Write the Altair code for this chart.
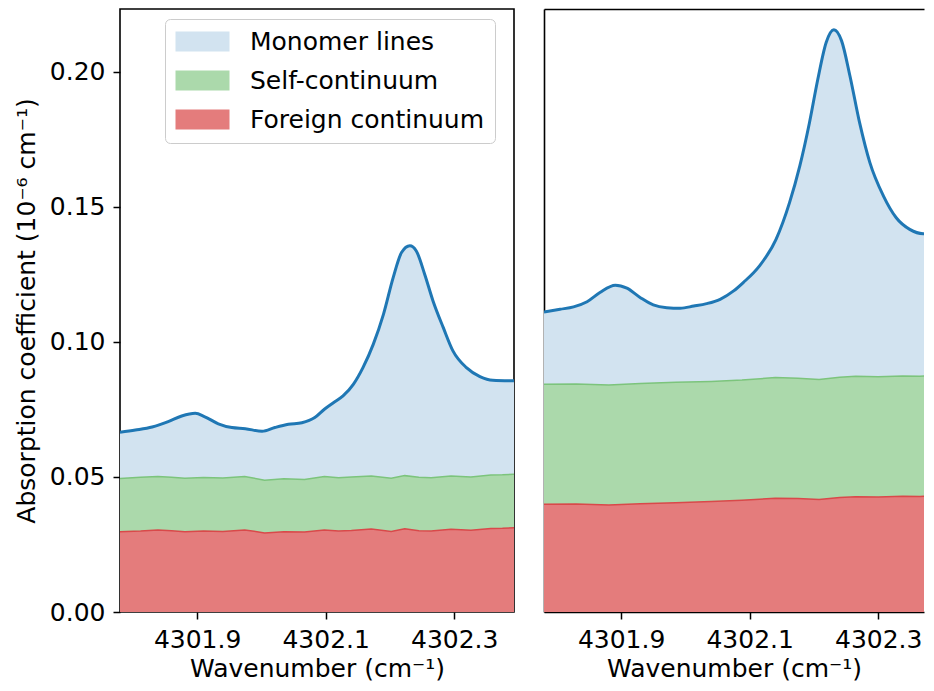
import altair as alt
import pandas as pd

# ---------------- data ----------------
SERIES = ["Monomer lines", "Self-continuum", "Foreign continuum"]
FILLS = ["#d2e3f0", "#abd9ab", "#e47c7c"]

XDOM_L = [4301.78, 4302.393]
XDOM_R = [4301.78, 4302.3712]   # right panel is cut by the picture edge
YDOM = [0, 0.2233]
XTICKS = [4301.9, 4302.1, 4302.3]
YTICKS = [0.0, 0.05, 0.10, 0.15, 0.20]

# left panel: total absorption (top of monomer lines)
L_WN = [4301.780, 4301.804, 4301.830, 4301.855, 4301.876, 4301.897, 4301.912,
        4301.933, 4301.954, 4301.975, 4302.001, 4302.021, 4302.042, 4302.063,
        4302.083, 4302.098, 4302.112, 4302.127, 4302.143, 4302.158, 4302.174,
        4302.190, 4302.205, 4302.218, 4302.231, 4302.241, 4302.254, 4302.267,
        4302.283, 4302.298, 4302.319, 4302.340, 4302.360, 4302.393]
L_TOT = [0.0666, 0.0674, 0.0685, 0.0705, 0.0726, 0.0736, 0.0723,
         0.0697, 0.0683, 0.0679, 0.0669, 0.0683, 0.0695, 0.0701,
         0.0720, 0.0751, 0.0775, 0.0800, 0.0843, 0.0905, 0.0991,
         0.1103, 0.1238, 0.1331, 0.1356, 0.1337, 0.1251, 0.1152,
         0.1053, 0.0967, 0.0905, 0.0872, 0.0858, 0.0856]

# left panel: continuum tops
L_CWN = [4301.780, 4301.812, 4301.839, 4301.860, 4301.881, 4301.910, 4301.940,
         4301.974, 4302.005, 4302.035, 4302.067, 4302.098, 4302.120, 4302.140,
         4302.171, 4302.202, 4302.223, 4302.245, 4302.264, 4302.295, 4302.326,
         4302.357, 4302.375, 4302.393]
L_SELF = [0.0494, 0.0499, 0.0502, 0.0499, 0.0495, 0.0498, 0.0496,
          0.0502, 0.0488, 0.0493, 0.0491, 0.0502, 0.0497, 0.0500,
          0.0504, 0.0495, 0.0505, 0.0499, 0.0497, 0.0504, 0.0500,
          0.0507, 0.0508, 0.0510]
L_FOR = [0.0297, 0.0300, 0.0304, 0.0301, 0.0297, 0.0300, 0.0298,
         0.0304, 0.0293, 0.0297, 0.0296, 0.0304, 0.0300, 0.0302,
         0.0307, 0.0298, 0.0308, 0.0301, 0.0300, 0.0306, 0.0303,
         0.0309, 0.0310, 0.0312]

# right panel: total absorption
R_WN = [4301.780, 4301.805, 4301.826, 4301.847, 4301.867, 4301.891, 4301.909,
        4301.930, 4301.950, 4301.971, 4301.992, 4302.013, 4302.033, 4302.054,
        4302.075, 4302.090, 4302.115, 4302.141, 4302.162, 4302.178, 4302.193,
        4302.206, 4302.219, 4302.231, 4302.243, 4302.256, 4302.271, 4302.287,
        4302.308, 4302.328, 4302.349, 4302.370, 4302.393]
R_TOT = [0.1111, 0.1121, 0.1130, 0.1149, 0.1183, 0.1210, 0.1199,
         0.1164, 0.1137, 0.1127, 0.1125, 0.1133, 0.1142, 0.1158,
         0.1189, 0.1220, 0.1281, 0.1380, 0.1516, 0.1652, 0.1812,
         0.1973, 0.2109, 0.2156, 0.2115, 0.1985, 0.1812, 0.1664,
         0.1541, 0.1460, 0.1417, 0.1401, 0.1411]

# right panel: continuum tops
R_CWN = [4301.780, 4301.830, 4301.881, 4301.930, 4301.985, 4302.040, 4302.088,
         4302.140, 4302.175, 4302.208, 4302.240, 4302.265, 4302.300, 4302.338,
         4302.365, 4302.393]
R_SELF = [0.0843, 0.0844, 0.0841, 0.0846, 0.0851, 0.0854, 0.0859,
          0.0868, 0.0866, 0.0861, 0.0869, 0.0873, 0.0871, 0.0874,
          0.0873, 0.0877]
R_FOR = [0.0399, 0.0400, 0.0396, 0.0401, 0.0405, 0.0409, 0.0414,
         0.0421, 0.0420, 0.0417, 0.0424, 0.0427, 0.0426, 0.0429,
         0.0428, 0.0431]

FONT = "DejaVu Sans"
FS = 25
color_scale = alt.Scale(domain=SERIES, range=FILLS)
X_TITLE = "Wavenumber (cm⁻¹)"
Y_TITLE = "Absorption coefficient (10⁻⁶ cm⁻¹)"


def frames(wn, tot, cwn, self_top, for_top):
    d_tot = pd.DataFrame({"wn": wn, "v": tot, "s": SERIES[0]})
    d_self = pd.DataFrame({"wn": cwn, "v": self_top, "s": SERIES[1]})
    d_for = pd.DataFrame({"wn": cwn, "v": for_top, "s": SERIES[2]})
    return d_tot, d_self, d_for


def layers(d_tot, d_self, d_for, xs, ys, color, x_bottom, x_top, x_none):
    a_tot = alt.Chart(d_tot).mark_area(interpolate="monotone", opacity=1, clip=True).encode(
        x=alt.X("wn:Q", scale=xs, axis=x_bottom), y=ys, color=color)
    a_self = alt.Chart(d_self).mark_area(opacity=1, clip=True).encode(
        x=alt.X("wn:Q", scale=xs, axis=x_none), y=ys, color=color)
    a_for = alt.Chart(d_for).mark_area(opacity=1, clip=True).encode(
        x=alt.X("wn:Q", scale=xs, axis=x_none), y=ys, color=color)
    l_self = alt.Chart(d_self).mark_line(color="#7cc47c", strokeWidth=1.5, clip=True).encode(
        x=alt.X("wn:Q", scale=xs, axis=x_none), y=ys)
    l_for = alt.Chart(d_for).mark_line(color="#d9494a", strokeWidth=1.5, clip=True).encode(
        x=alt.X("wn:Q", scale=xs, axis=x_none), y=ys)
    l_tot = alt.Chart(d_tot).mark_line(color="#1f77b4", strokeWidth=3,
                                       interpolate="monotone", clip=True).encode(
        x=alt.X("wn:Q", scale=xs, axis=x_top), y=ys)
    return alt.layer(a_tot, a_self, a_for, l_self, l_for, l_tot)


# ---- left panel ----
xs_l = alt.Scale(domain=XDOM_L, nice=False, zero=False)
ys = alt.Scale(domain=YDOM, nice=False, zero=True)
x_axis_l = alt.Axis(values=XTICKS, format=".1f", title=X_TITLE, titlePadding=4)
y_l = alt.Y("v:Q", stack=None, scale=ys,
            axis=alt.Axis(values=YTICKS, format=".2f", title=Y_TITLE, titlePadding=10))
legend = alt.Legend(title=None, orient="none", legendX=45, legendY=10,
                    fillColor="white", strokeColor="#cccccc",
                    cornerRadius=5, padding=10,
                    labelFont=FONT, labelFontSize=FS, labelColor="black",
                    labelLimit=400,
                    symbolType="M-1,-0.833L3.5,-0.833L3.5,0.833L-1,0.833Z",
                    symbolSize=576, symbolStrokeWidth=0,
                    symbolOpacity=1, labelOffset=50, rowPadding=13)
color_l = alt.Color("s:N", scale=color_scale, legend=legend)
dl = frames(L_WN, L_TOT, L_CWN, L_SELF, L_FOR)
left = layers(*dl, xs_l, y_l, color_l, x_axis_l, x_axis_l, x_axis_l).properties(
    width=394, height=603)

# ---- right panel (its right edge is cut by the picture) ----
xs_r = alt.Scale(domain=XDOM_R, nice=False, zero=False)
x_axis_r = alt.Axis(values=XTICKS, format=".1f", title=X_TITLE, titlePadding=4,
                    domain=True, domainColor="black", domainWidth=1.6)
x_axis_top = alt.Axis(orient="top", labels=False, ticks=False, title=None,
                      domain=True, domainColor="black", domainWidth=1.6)
y_r = alt.Y("v:Q", stack=None, scale=ys,
            axis=alt.Axis(labels=False, ticks=False, title=None, domain=True,
                          domainColor="black", domainWidth=1.6))
color_r = alt.Color("s:N", scale=color_scale, legend=None)
dr = frames(R_WN, R_TOT, R_CWN, R_SELF, R_FOR)
right = layers(*dr, xs_r, y_r, color_r, x_axis_r, x_axis_top, None).resolve_axis(
    x="independent").properties(
    width=380, height=603, view=alt.ViewBackground(stroke="transparent"))

chart = alt.hconcat(left, right, spacing=28).resolve_scale(
    color="independent").resolve_legend(color="independent").properties(
    padding={"left": 5, "top": 0, "right": 0, "bottom": 0}
).configure_view(
    stroke="black", strokeWidth=1.6
).configure_axis(
    domain=False, grid=False,
    labelFont=FONT, labelFontSize=FS, labelColor="black", labelPadding=8,
    titleFont=FONT, titleFontSize=FS, titleFontWeight="normal", titleColor="black",
    tickColor="black", tickWidth=1.5, tickSize=7
)

chart.save("out.html", embed_options={"renderer": "svg", "actions": False})
